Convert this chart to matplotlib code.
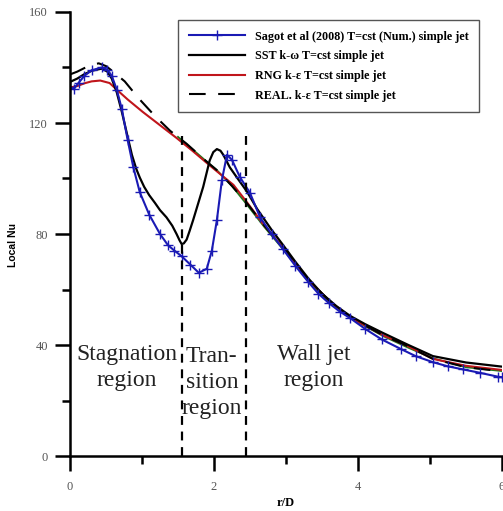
import matplotlib
matplotlib.use('Agg')
import matplotlib.pyplot as plt
from matplotlib.ticker import MultipleLocator

# Sagot et al (2008) reference data
sagot_x = [0, 0.05, 0.12, 0.2, 0.3, 0.44, 0.52, 0.58, 0.65, 0.72, 0.8, 0.88, 0.97, 1.1, 1.25,
           1.36, 1.45, 1.55, 1.67, 1.79, 1.9, 1.97, 2.04, 2.11, 2.18, 2.25, 2.36, 2.5, 2.64, 2.8,
           2.96, 3.13, 3.31, 3.45, 3.6, 3.75, 3.89, 4.1, 4.33, 4.6, 4.8, 5.04, 5.25, 5.46, 5.69,
           5.94, 6.0]
sagot_y = [133, 132.2, 134.5, 137, 139, 140, 139.2, 137, 132, 125, 114, 104, 95, 87, 80,
           76, 74, 72, 69, 66, 67.5, 74, 85, 99.5, 108.5, 106.7, 100.5, 94.8, 86, 80,
           74.5, 68.5, 62.7, 58.5, 55, 52, 49.7, 45.8, 42, 38.5, 36, 33.8, 32.3, 31.2, 30,
           28.6, 28.4]

# SST k-omega
sst_x = [0, 0.1, 0.2, 0.3, 0.44, 0.52, 0.58, 0.65, 0.72, 0.81, 0.86, 0.92, 0.97, 1.03, 1.1, 1.18,
         1.25, 1.34, 1.42, 1.48, 1.52, 1.55, 1.58, 1.62, 1.66, 1.71, 1.78, 1.85, 1.94, 1.99, 2.04,
         2.09, 2.13, 2.22, 2.32, 2.46, 2.6, 2.8, 2.96, 3.13, 3.31, 3.5, 3.7, 3.89, 4.1, 4.35, 4.7,
         5.04, 5.5, 6.0]
sst_y = [134.8, 136, 137.6, 138.8, 139.6, 138.5, 136, 131, 124, 114, 108.5, 103.5, 100.3, 97, 94, 91.2,
         88.6, 86, 83, 80, 77.8, 76.4, 76.6, 78, 81, 85, 91, 97, 106.5, 109.5, 110.6,
         110, 108.5, 104, 100.3, 95.2, 89, 81.5, 76, 70, 64, 58.5, 54, 50.5, 47.5, 44.3, 40,
         36, 33.7, 32.2]

# RNG k-epsilon
rng_x = [0, 0.1, 0.2, 0.3, 0.42, 0.55, 0.65, 0.8, 1.01, 1.25, 1.48, 1.7, 1.9, 2.1, 2.27, 2.47,
         2.7, 2.96, 3.13, 3.31, 3.6, 3.89, 4.1, 4.35, 4.7, 5.04, 5.5, 6.0]
rng_y = [132.8, 133.3, 134.3, 135, 135.3, 134.4, 132, 128.5, 124, 119.2, 114.6, 110, 105.6, 101.3, 97.7, 91,
         83, 75, 69.5, 63.5, 56, 50, 47, 43.5, 39.5, 35, 32.5, 31]

# Realizable k-epsilon
real_x = [0, 0.1, 0.2, 0.3, 0.4, 0.5, 0.6, 0.76, 0.95, 1.18, 1.39, 1.62, 1.88, 2.04, 2.25, 2.46,
          2.7, 2.96, 3.31, 3.6, 3.89, 4.35, 4.7, 5.04, 5.5, 6.0]
real_y = [137.5, 138.5, 139.8, 141, 141.5, 140.5, 138.5, 135, 129, 122.5, 117.2, 112.5, 106.5, 103, 97.3, 91,
          83, 75, 63.5, 56, 50, 43.5, 39.5, 35, 32, 30.5]

# unlabelled green curve seen under the others
green_x = [1.5, 1.88, 2.04, 2.25, 2.46, 2.7, 2.96, 3.31, 3.6, 3.89, 4.35, 4.7, 5.04, 5.5, 6.0]
green_y = [115, 106.5, 103, 97.3, 90.5, 82.5, 74.5, 63, 55.5, 49.8, 43.2, 39, 35.2, 32, 30.6]

region_bounds = [1.55, 2.45]
region_top = 116
region_labels = ['Stagnation\nregion', 'Tran-\nsition\nregion', 'Wall jet\nregion']
region_label_x = [0.79, 1.97, 3.38]
region_label_y = [32, 26.5, 32]

serif = 'Liberation Serif'

fig = plt.figure(figsize=(5.03, 5.11), dpi=100)
ax = fig.add_axes([70 / 503, 55 / 511, 432 / 503, 444 / 511])

ax.plot(green_x, green_y, color='#1a7a1a', linewidth=1.3)
ax.plot(rng_x, rng_y, color='#c0151b', linewidth=1.5, label='RNG k-\u03b5 T=cst simple jet')
ax.plot(real_x, real_y, color='black', linewidth=1.5, linestyle=(0, (8, 6)),
        label='REAL. k-\u03b5 T=cst simple jet')
ax.plot(sst_x, sst_y, color='black', linewidth=1.6, label='SST k-\u03c9 T=cst simple jet')
ax.plot(sagot_x, sagot_y, color='#1a1ab4', linewidth=1.5, marker='+', markersize=6.5,
        markeredgewidth=1.0, label='Sagot et al (2008) T=cst (Num.) simple jet')

for xb in region_bounds:
    ax.plot([xb, xb], [0, region_top], color='black', linewidth=1.6, linestyle=(0, (4, 3)))

for txt, tx, ty in zip(region_labels, region_label_x, region_label_y):
    ax.text(tx, ty, txt, ha='center', va='center', fontsize=17, family=serif,
            color='#222222', linespacing=1.3)

ax.set_xlim(0, 6)
ax.set_ylim(0, 160)
ax.xaxis.set_major_locator(MultipleLocator(2))
ax.xaxis.set_minor_locator(MultipleLocator(1))
ax.yaxis.set_major_locator(MultipleLocator(40))
ax.yaxis.set_minor_locator(MultipleLocator(20))

for side in ['top', 'right']:
    ax.spines[side].set_visible(False)
for side in ['left', 'bottom']:
    ax.spines[side].set_linewidth(1.8)

ax.tick_params(which='major', direction='out', length=11, width=1.8, pad=5,
               labelsize=9, labelcolor='#555555')
ax.tick_params(which='minor', direction='out', length=6, width=1.8)
ax.tick_params(axis='x', which='major', pad=7)
for lbl in ax.get_xticklabels() + ax.get_yticklabels():
    lbl.set_family(serif)

ax.set_xlabel('r/D', fontsize=9, fontweight='bold', family=serif)
ax.xaxis.set_label_coords(0.5, -0.093)
ax.set_ylabel('Local Nu', fontsize=7.5, fontweight='bold', family='Liberation Sans')
ax.yaxis.set_label_coords(-0.12, 0.475)

handles, labels = ax.get_legend_handles_labels()
order = [3, 2, 0, 1]
leg = ax.legend([handles[i] for i in order], [labels[i] for i in order],
                loc='upper left', bbox_to_anchor=(0.25, 0.982), borderaxespad=0,
                prop={'family': serif, 'weight': 'bold', 'size': 8.7},
                handlelength=4.7, handletextpad=0.8, labelspacing=0.64,
                borderpad=0.87, fancybox=False, framealpha=1)
leg.get_frame().set_edgecolor('#555555')
leg.get_frame().set_linewidth(1.0)

fig.savefig('out.png', dpi=100)
